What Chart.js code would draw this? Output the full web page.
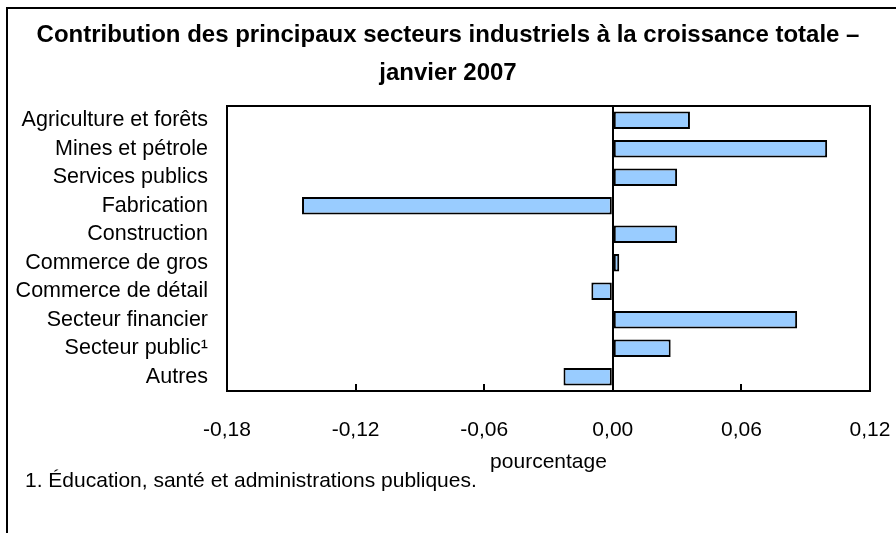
<!DOCTYPE html>
<html lang="fr">
<head>
<meta charset="utf-8">
<title>Contribution des principaux secteurs industriels</title>
<script src="https://cdn.jsdelivr.net/npm/chart.js@4.4.1/dist/chart.umd.min.js"></script>
<style>
    html, body { margin: 0; padding: 0; background: #fff; }
    canvas { display: block; }
</style>
</head>
<body>
<canvas id="sectorChart" width="896" height="533"></canvas>
<script>
// Chart data
const titleLines = ['Contribution des principaux secteurs industriels à la croissance totale –', 'janvier 2007'];
const footnote = '1. Éducation, santé et administrations publiques.';
const axisTitle = 'pourcentage';

const sectors = [
    'Agriculture et forêts',
    'Mines et pétrole',
    'Services publics',
    'Fabrication',
    'Construction',
    'Commerce de gros',
    'Commerce de détail',
    'Secteur financier',
    'Secteur public¹',
    'Autres'
];
const contributions = [0.036, 0.100, 0.030, -0.145, 0.030, 0.003, -0.010, 0.086, 0.027, -0.023];
const xTicks = [-0.18, -0.12, -0.06, 0, 0.06, 0.12];

const FONT = '"Liberation Sans", Arial, sans-serif';

// Frame, title, footnote, plot border and inner tick marks
const decorPlugin = {
    id: 'decor',
    beforeDraw(chart) {
        const ctx = chart.ctx;
        ctx.save();
        ctx.fillStyle = '#fff';
        ctx.fillRect(0, 0, chart.width, chart.height);

        // outer frame (runs off the right and bottom edges)
        ctx.strokeStyle = '#000';
        ctx.lineWidth = 2;
        ctx.beginPath();
        ctx.moveTo(7, chart.height);
        ctx.lineTo(7, 8);
        ctx.lineTo(chart.width, 8);
        ctx.stroke();

        ctx.fillStyle = '#000';
        ctx.font = 'bold 24px ' + FONT;
        ctx.textAlign = 'center';
        ctx.textBaseline = 'alphabetic';
        ctx.fillText(titleLines[0], 448, 42);
        ctx.fillText(titleLines[1], 448, 80);

        ctx.font = '21px ' + FONT;
        ctx.textAlign = 'left';
        ctx.fillText(footnote, 25, 487);
        ctx.restore();
    },
    afterDatasetsDraw(chart) {
        const {ctx, chartArea: area, scales: {x}} = chart;
        ctx.save();
        ctx.strokeStyle = '#000';
        ctx.lineWidth = 2;
        ctx.strokeRect(area.left, area.top, area.right - area.left, area.bottom - area.top);

        ctx.beginPath();
        x.ticks.forEach(t => {
            const px = Math.round(x.getPixelForValue(t.value));
            ctx.moveTo(px, area.bottom);
            ctx.lineTo(px, area.bottom - 7);
        });
        ctx.stroke();
        ctx.restore();
    }
};

const ctx = document.getElementById('sectorChart').getContext('2d');
new Chart(ctx, {
    type: 'bar',
    data: {
        labels: sectors,
        datasets: [{
            data: contributions,
            backgroundColor: '#99CCFF',
            borderColor: '#000',
            borderWidth: 2,
            borderSkipped: false,
            barPercentage: 0.62,
            categoryPercentage: 1.0
        }]
    },
    options: {
        indexAxis: 'y',
        responsive: false,
        animation: false,
        layout: {
            padding: { top: 106, left: 7, right: 26, bottom: 58 }
        },
        plugins: {
            legend: { display: false },
            tooltip: { enabled: false }
        },
        scales: {
            x: {
                min: -0.18,
                max: 0.12,
                afterBuildTicks: function(scale) {
                    scale.ticks = xTicks.map(v => ({ value: v }));
                },
                afterFit: function(scale) {
                    scale.height = 84;
                    scale.paddingLeft = 0;
                    scale.paddingRight = 0;
                },
                grid: {
                    drawTicks: false,
                    lineWidth: 2,
                    color: function(c) {
                        return c.tick && c.tick.value === 0 ? '#000' : 'rgba(0,0,0,0)';
                    }
                },
                border: { display: false },
                ticks: {
                    color: '#000',
                    padding: 27,
                    maxRotation: 0,
                    autoSkip: false,
                    font: { family: FONT, size: 21 },
                    callback: function(value) {
                        return value.toFixed(2).replace('.', ',');
                    }
                },
                title: {
                    display: true,
                    text: axisTitle,
                    color: '#000',
                    padding: { top: 0, bottom: 0 },
                    font: { family: FONT, size: 21 }
                }
            },
            y: {
                afterFit: function(scale) {
                    scale.width = 220;
                },
                grid: { display: false, drawTicks: false },
                border: { display: false },
                ticks: {
                    color: '#000',
                    padding: 19,
                    autoSkip: false,
                    font: { family: FONT, size: 21.5 }
                }
            }
        }
    },
    plugins: [decorPlugin]
});
</script>
</body>
</html>
